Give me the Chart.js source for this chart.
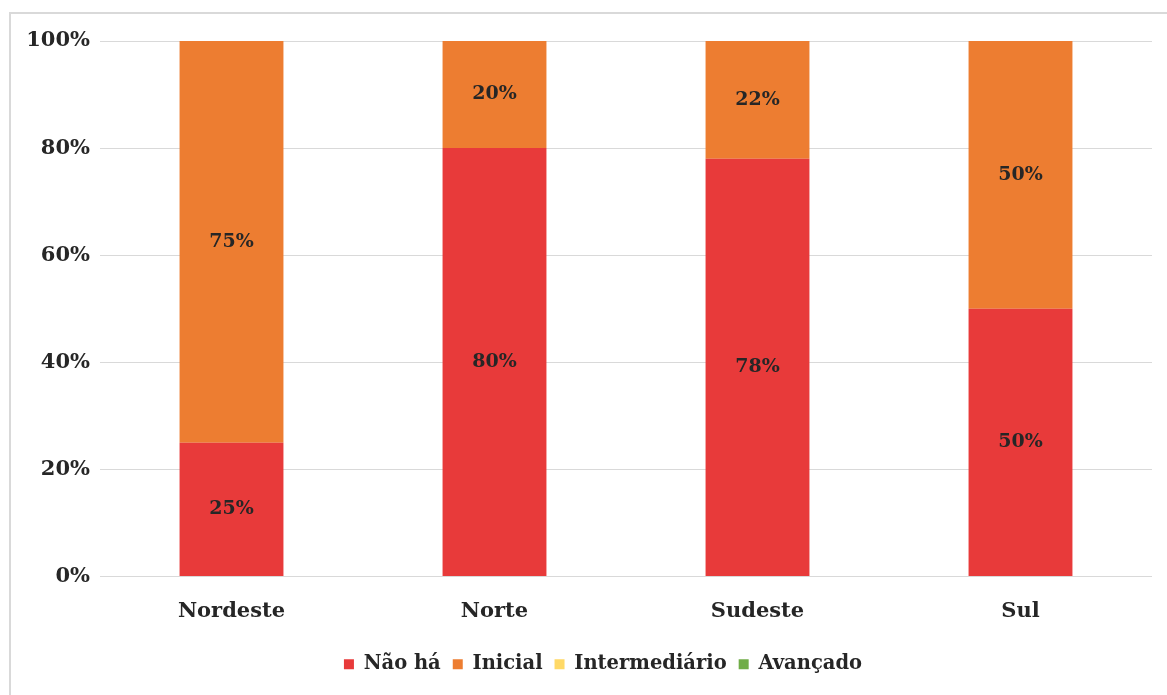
<!DOCTYPE html>
<html lang="pt-BR">
<head>
<meta charset="utf-8">
<title>Nível por região</title>
<script src="https://cdn.jsdelivr.net/npm/chart.js@4/dist/chart.umd.min.js"></script>
<style>
  html, body { margin: 0; padding: 0; background: #fff; overflow: hidden; }
  #frame {
    position: absolute; left: 9px; top: 12px;
    width: 1200px; height: 720px;
    border: 2px solid #d9d9d9;
  }
  #wrap { position: absolute; left: 0; top: 0; width: 1167px; height: 695px; }
</style>
</head>
<body>
<div id="frame"></div>
<div id="wrap"><canvas id="chart"></canvas></div>
<script>
// Regiões e percentual de cada nível
const regioes = ['Nordeste', 'Norte', 'Sudeste', 'Sul'];
const naoHa = [25, 80, 78, 50];
const inicial = [75, 20, 22, 50];
const intermediario = [0, 0, 0, 0];
const avancado = [0, 0, 0, 0];
const yTicks = [0, 20, 40, 60, 80, 100];

const FONT = "'DejaVu Serif', 'Liberation Serif', serif";
const TEXT = '#262626';

// Rótulos de valor no centro de cada segmento
const valueLabels = {
  id: 'valueLabels',
  afterDatasetsDraw(chart) {
    const ctx = chart.ctx;
    ctx.save();
    ctx.font = 'bold 19px ' + FONT;
    ctx.fillStyle = TEXT;
    ctx.textAlign = 'center';
    ctx.textBaseline = 'middle';
    chart.data.datasets.forEach((ds, i) => {
      const meta = chart.getDatasetMeta(i);
      meta.data.forEach((bar, j) => {
        const v = ds.data[j];
        if (!v) return;
        const p = bar.getProps(['x', 'y', 'base'], true);
        ctx.fillText(v + '%', p.x, (p.y + p.base) / 2);
      });
    });
    ctx.restore();
  }
};

// Legenda um pouco deslocada para a direita
const legendShift = {
  id: 'legendShift',
  afterLayout(chart) {
    const lg = chart.legend;
    if (!lg) return;
    lg.left += 27;
    lg.right += 27;
  }
};

new Chart(document.getElementById('chart'), {
  type: 'bar',
  data: {
    labels: regioes,
    datasets: [
      { label: 'Não há', data: naoHa, backgroundColor: '#e83a3a' },
      { label: 'Inicial', data: inicial, backgroundColor: '#ed7d31' },
      { label: 'Intermediário', data: intermediario, backgroundColor: '#ffd966' },
      { label: 'Avançado', data: avancado, backgroundColor: '#70ad47' }
    ]
  },
  options: {
    responsive: true,
    maintainAspectRatio: false,
    animation: false,
    layout: { padding: { left: 0, right: 15, top: 41, bottom: 11 } },
    datasets: { bar: { categoryPercentage: 1, barPercentage: 0.395 } },
    scales: {
      x: {
        stacked: true,
        grid: { display: false },
        border: { display: false },
        afterFit(scale) { scale.height = 66; },
        ticks: { color: TEXT, font: { family: FONT, size: 21, weight: 'bold' }, padding: 14 }
      },
      y: {
        stacked: true,
        min: 0,
        max: 100,
        afterBuildTicks(scale) { scale.ticks = yTicks.map(v => ({ value: v })); },
        afterFit(scale) { scale.width = 100; },
        grid: { color: '#d9d9d9', lineWidth: 1, drawTicks: false },
        border: { display: false },
        ticks: {
          color: TEXT,
          padding: 10,
          font: { family: FONT, size: 21, weight: 'bold' },
          callback: v => v + '%'
        }
      }
    },
    plugins: {
      tooltip: { enabled: false },
      legend: {
        position: 'bottom',
        labels: {
          color: TEXT,
          boxWidth: 10,
          boxHeight: 10,
          padding: 12,
          font: { family: FONT, size: 19.5, weight: 'bold' }
        }
      }
    }
  },
  plugins: [valueLabels, legendShift]
});
</script>
</body>
</html>
